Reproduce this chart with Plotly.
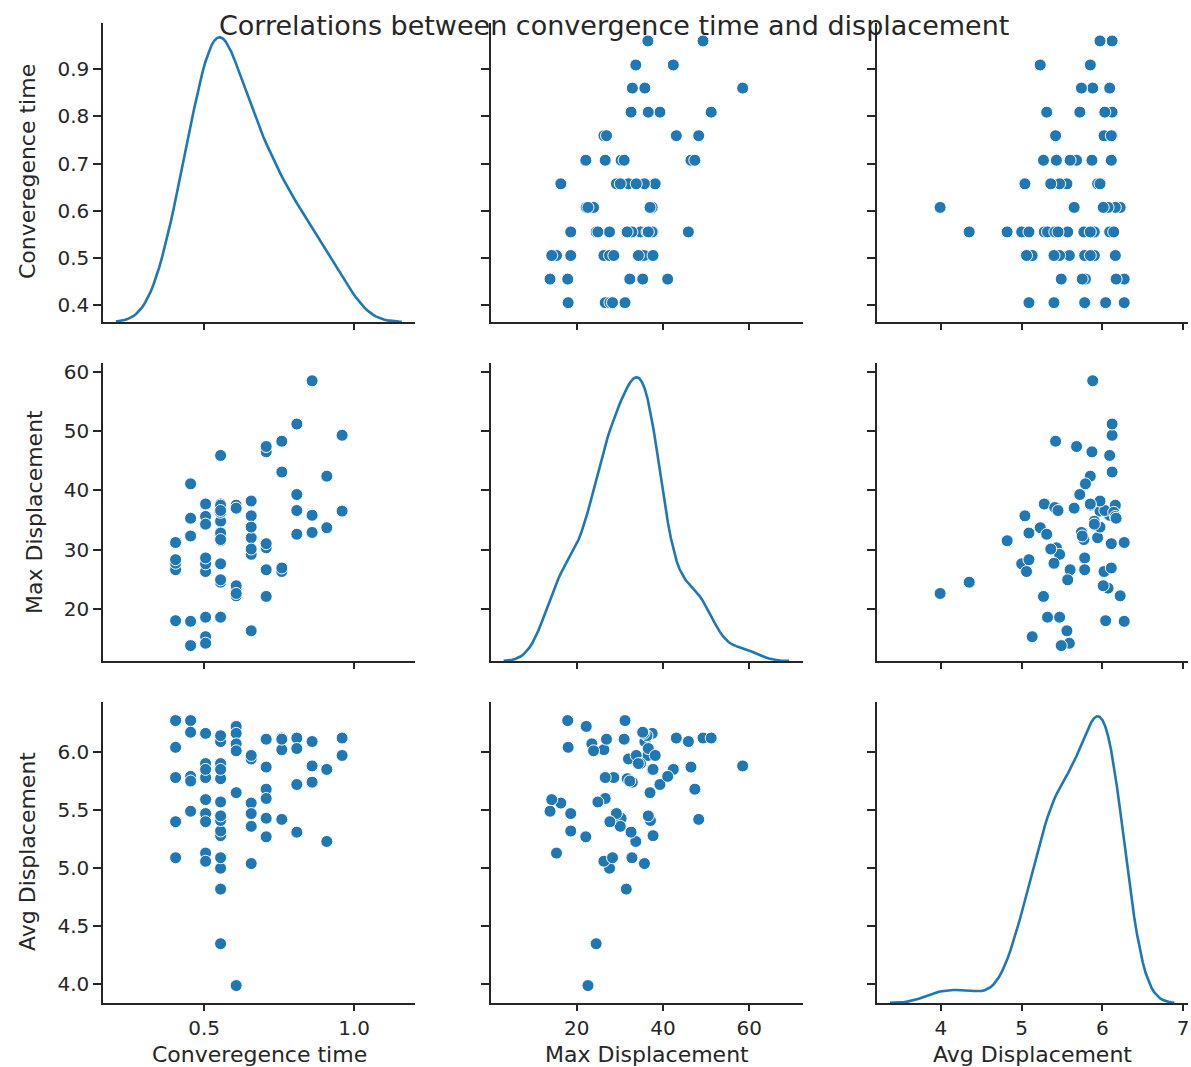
import numpy as np
import plotly.graph_objects as go

# ---------------- data ----------------
conv_time = [
    0.96, 0.96,
    0.909, 0.909,
    0.86, 0.86, 0.86,
    0.809, 0.809, 0.809, 0.809,
    0.759, 0.759, 0.759, 0.759,
    0.707, 0.707, 0.707, 0.707, 0.707, 0.707,
    0.657, 0.657, 0.657, 0.657, 0.657, 0.657, 0.657,
    0.607, 0.607, 0.607, 0.607, 0.607, 0.607,
    0.555, 0.555, 0.555, 0.555, 0.555, 0.555, 0.555, 0.555, 0.555, 0.555, 0.555, 0.555, 0.555, 0.555,
    0.505, 0.505, 0.505, 0.505, 0.505, 0.505, 0.505, 0.505, 0.505,
    0.455, 0.455, 0.455, 0.455, 0.455,
    0.405, 0.405, 0.405, 0.405, 0.405,
]
max_disp = [
    49.3, 36.5,
    42.4, 33.7,
    58.5, 35.8, 32.9,
    51.2, 39.3, 36.6, 32.6,
    48.3, 43.1, 26.3, 26.9,
    46.5, 47.4, 26.6, 30.3, 22.1, 31.0,
    38.2, 16.3, 35.7, 32.0, 33.8, 29.2, 30.1,
    22.2, 37.5, 23.5, 23.9, 37.0, 22.6,
    24.5, 31.5, 45.9, 27.6, 37.7, 18.6, 24.9, 37.1, 34.8, 32.8, 31.7, 36.3, 37.5, 36.6,
    15.3, 14.2, 18.6, 26.3, 27.6, 28.6, 35.6, 34.3, 37.7,
    13.8, 17.9, 41.1, 32.3, 35.3,
    31.2, 18.0, 26.6, 27.7, 28.3,
]
avg_disp = [
    6.12, 5.97,
    5.85, 5.23,
    5.88, 6.09, 5.74,
    6.12, 5.72, 6.03, 5.31,
    5.42, 6.12, 6.02, 6.11,
    5.87, 5.68, 5.60, 5.43, 5.27, 6.11,
    5.97, 5.56, 5.04, 5.94, 5.97, 5.47, 5.36,
    6.22, 6.16, 6.07, 6.01, 5.65, 3.99,
    4.35, 4.82, 6.09, 5.00, 5.28, 5.32, 5.57, 5.41, 5.90, 5.09, 5.77, 6.14, 5.85, 5.45,
    5.13, 5.59, 5.47, 5.06, 5.40, 5.78, 6.16, 5.90, 5.85,
    5.49, 6.27, 5.79, 5.75, 6.17,
    6.27, 6.04, 5.78, 5.40, 5.09,
]

var_names = ["Converegence time", "Max Displacement", "Avg Displacement"]
title_text = "Correlations between convergence time and displacement"

x_tickvals = [[0.5, 1.0], [20, 40, 60], [4, 5, 6, 7]]
x_ticktext = [["0.5", "1.0"], ["20", "40", "60"], ["4", "5", "6", "7"]]
y_tickvals = [[0.4, 0.5, 0.6, 0.7, 0.8, 0.9], [20, 30, 40, 50, 60], [4.0, 4.5, 5.0, 5.5, 6.0]]
y_ticktext = [["0.4", "0.5", "0.6", "0.7", "0.8", "0.9"], ["20", "30", "40", "50", "60"],
              ["4.0", "4.5", "5.0", "5.5", "6.0"]]

# ---------------- styling / layout ----------------
W, H = 1191, 1067
col_px = [(103, 415), (491, 803), (877, 1188)]
row_px = [(23, 322), (363, 661), (702, 1003)]
col_range = [[0.163, 1.203], [0.1, 72.5], [3.208, 7.06]]
row_range = [[0.364, 0.998], [11.2, 61.5], [3.84, 6.43]]

BLUE = "#1f77b4"
INK = "#262626"
FONT = "DejaVu Sans"
TICK_SIZE = 20
LABEL_SIZE = 22
TITLE_SIZE = 27

data = [np.array(conv_time), np.array(max_disp), np.array(avg_disp)]


def kde_curve(x, gridsize=100, cut=3):
    x = np.asarray(x, dtype=float)
    n = len(x)
    q75, q25 = np.percentile(x, [75, 25])
    a = min(np.std(x, ddof=1), (q75 - q25) / 1.349)
    bw = 1.059 * a * n ** (-0.2)
    grid = np.linspace(x.min() - cut * bw, x.max() + cut * bw, gridsize)
    z = (grid[:, None] - x[None, :]) / bw
    dens = np.exp(-0.5 * z ** 2).sum(axis=1) / (n * bw * np.sqrt(2 * np.pi))
    return grid, dens


fig = go.Figure()
layout = dict(
    width=W, height=H,
    margin=dict(l=0, r=0, t=0, b=0),
    paper_bgcolor="white", plot_bgcolor="white",
    showlegend=False,
    font=dict(family=FONT, size=TICK_SIZE, color=INK),
)


def ax_name(prefix, k):
    return prefix + ("" if k == 1 else str(k))


for r in range(3):
    for c in range(3):
        k = r * 3 + c + 1
        xd = [col_px[c][0] / W, col_px[c][1] / W]
        yd = [1 - row_px[r][1] / H, 1 - row_px[r][0] / H]
        layout[ax_name("xaxis", k)] = dict(
            domain=xd, anchor=ax_name("y", k), range=col_range[c],
            tickvals=x_tickvals[c], ticktext=x_ticktext[c],
            showticklabels=(r == 2), ticks="outside", ticklen=6, tickwidth=1.5,
            tickcolor=INK, showline=True, linecolor=INK, linewidth=1.5,
            showgrid=False, zeroline=False, automargin=False,
            tickfont=dict(family=FONT, size=TICK_SIZE, color=INK),
        )
        layout[ax_name("yaxis", k)] = dict(
            domain=yd, anchor=ax_name("x", k), range=row_range[r],
            tickvals=y_tickvals[r], ticktext=y_ticktext[r],
            showticklabels=(c == 0), ticks="outside", ticklen=8, tickwidth=1.5,
            tickcolor=INK, showline=True, linecolor=INK, linewidth=1.5,
            showgrid=False, zeroline=False, automargin=False,
            tickfont=dict(family=FONT, size=TICK_SIZE, color=INK),
        )
        if r == c:
            # invisible placeholder so the base subplot (with its axes) is drawn
            fig.add_trace(go.Scatter(
                x=[None], y=[None], mode="markers", showlegend=False,
                xaxis=ax_name("x", k), yaxis=ax_name("y", k), hoverinfo="skip",
            ))
            grid, dens = kde_curve(data[c])
            ov = 9 + r + 1
            layout[ax_name("yaxis", ov)] = dict(
                domain=yd, overlaying=ax_name("y", k), anchor=ax_name("x", k),
                range=[0, dens.max() * 1.05], visible=False,
                showgrid=False, zeroline=False,
            )
            fig.add_trace(go.Scatter(
                x=grid, y=dens, mode="lines",
                line=dict(color=BLUE, width=2.6),
                xaxis=ax_name("x", k), yaxis=ax_name("y", ov),
                hoverinfo="skip",
            ))
        else:
            fig.add_trace(go.Scatter(
                x=data[c], y=data[r], mode="markers",
                marker=dict(color=BLUE, size=12, line=dict(color="white", width=1)),
                xaxis=ax_name("x", k), yaxis=ax_name("y", k),
            ))

annotations = [
    dict(text=title_text, x=614 / W, y=1 - 26 / H, xref="paper", yref="paper",
         xanchor="center", yanchor="middle", showarrow=False,
         font=dict(family=FONT, size=TITLE_SIZE, color=INK)),
]
x_label_pos = [(259, 1054), (647, 1054), (1032, 1054)]
for (px, py), name in zip(x_label_pos, var_names):
    annotations.append(dict(text=name, x=px / W, y=1 - py / H, xref="paper", yref="paper",
                            xanchor="center", yanchor="middle", showarrow=False,
                            font=dict(family=FONT, size=LABEL_SIZE, color=INK)))
y_label_pos = [(27, 172), (34, 512), (27, 852)]
for (px, py), name in zip(y_label_pos, var_names):
    annotations.append(dict(text=name, x=px / W, y=1 - py / H, xref="paper", yref="paper",
                            xanchor="center", yanchor="middle", showarrow=False,
                            textangle=-90,
                            font=dict(family=FONT, size=LABEL_SIZE, color=INK)))
layout["annotations"] = annotations

fig.update_layout(**layout)
fig.write_html("out.html")
